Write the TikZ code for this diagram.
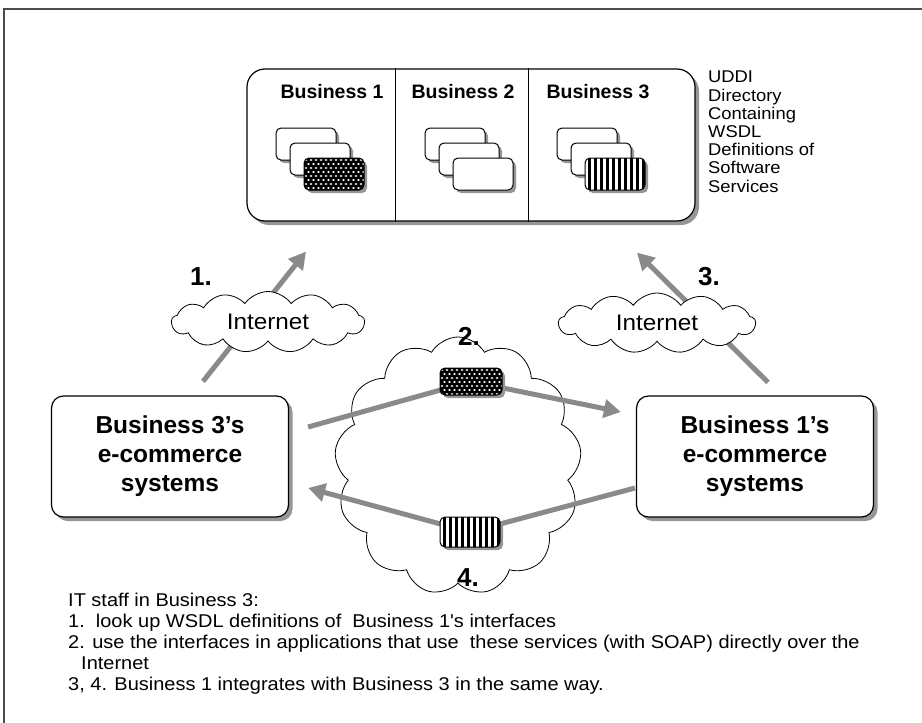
\documentclass[tikz,border=0pt]{standalone}
\usepackage{fontspec}
\setmainfont{Liberation Sans}
\newfontfamily\widefont{Liberation Sans}[FakeStretch=1.08]
\usetikzlibrary{positioning,calc,shapes.symbols,shadows,arrows.meta}

\definecolor{flowgray}{RGB}{138,138,138}
\definecolor{shadegray}{RGB}{150,150,150}

% stack of three service cards: x, y, name, style of the front card
\newcommand{\servicestack}[4]{%
  \node[card] (#3-a) at (#1,#2) {};
  \node[card] (#3-b) at (#1+14,#2+15) {};
  \node[card,#4] (#3-c) at (#1+28,#2+30) {};
}

\begin{document}
\begin{tikzpicture}[x=1pt,y=-1pt,>={Triangle[length=17pt,width=18pt]}]

	\tikzset{
		boxshadow/.style={drop shadow={shadow xshift=4pt, shadow yshift=-4pt, fill=shadegray, opacity=1}},
		sysbox/.style={draw=black, line width=1.2pt, rounded corners=12pt, fill=white, boxshadow,
			minimum width=237pt, minimum height=121pt, align=center,
			font=\fontsize{24.5}{29}\selectfont\bfseries},
		dirbox/.style={draw=black, line width=1.2pt, rounded corners=18pt, fill=white, boxshadow,
			minimum width=448pt, minimum height=152pt},
		card/.style={draw=black, line width=1pt, rounded corners=5pt, fill=white, inner sep=0pt,
			minimum width=60pt, minimum height=32pt,
			drop shadow={shadow xshift=3pt, shadow yshift=-3pt, fill=shadegray, opacity=1}},
		dotcard/.style={fill=black, path picture={
				\foreach \j in {0,...,8} \foreach \i in {0,...,13}
				\fill[white] ($(path picture bounding box.north west)+({\i*5+2+mod(\j,2)*2.5},{\j*4+2})$) ellipse (1.4pt and 1pt);
		}},
		stripecard/.style={fill=white, path picture={
				\foreach \i in {0,...,11}
				\draw[black, line width=3pt] ($(path picture bounding box.north west)+(\i*6+4,-2)$) -- ++(0,40);
		}},
		net/.style={cloud, cloud puffs=13, cloud puff arc=110, cloud ignores aspect, draw=black,
			fill=white, line width=0.8pt, inner sep=0pt, font=\widefont\fontsize{22.5}{24}\selectfont},
		flow/.style={draw=flowgray, line width=5pt},
		head/.style={font=\fontsize{19.5}{21}\selectfont\bfseries, inner sep=0pt},
		num/.style={font=\fontsize{26}{28}\selectfont\bfseries, inner sep=0pt},
		note/.style={align=left, inner sep=0pt}
	}
	
	\useasboundingbox (0,0) rectangle (922,723);
	
	% frame
	\draw[gray!60!black, line width=2pt] (4,723) -- (4,9) -- (922,9);
	
	% ===== UDDI directory =====
	\node[dirbox] (uddi) at (471,145) {};
	\coordinate (d1) at (395,0);
	\coordinate (d2) at (528,0);
	\draw[line width=1pt] (d1 |- uddi.north) -- (d1 |- uddi.south);
	\draw[line width=1pt] (d2 |- uddi.north) -- (d2 |- uddi.south);
	
	\node[head] (h1) at (332,92) {Business 1};
	\node[head] (h2) at (463,92) {Business 2};
	\node[head] (h3) at (598,92) {Business 3};
	
	\servicestack{306}{144}{s1}{dotcard}
	\servicestack{455}{144}{s2}{}
	\servicestack{587}{144}{s3}{stripecard}
	
	\node[note, anchor=north west, font=\widefont\fontsize{17}{18.2}\selectfont] (udditxt) at (708,71)
	{UDDI\\Directory\\Containing\\WSDL\\Definitions of\\Software\\Services};
	
	% ===== systems =====
	\node[sysbox] (b3sys) at (170,456.5) {Business 3’s\\e-commerce\\systems};
	\node[sysbox] (b1sys) at (755,456.5) {Business 1’s\\e-commerce\\systems};
	
	% ===== big cloud in the middle =====
	\node[cloud, cloud puffs=13, cloud puff arc=120, cloud ignores aspect, draw=black, line width=0.8pt,
		minimum width=247pt, minimum height=258pt] (web) at (458,466) {};
	
	% ===== lookups over the Internet =====
	\coordinate (a1s) at ($(b3sys.north)+(33,-14)$);
	\coordinate (a1e) at ($(uddi.south)+(-165,30)$);
	\draw[flow,->] (a1s) -- (a1e);
	
	\coordinate (a3s) at ($(b1sys.north)+(13,-13)$);
	\coordinate (a3e) at ($(uddi.south)+(166,31)$);
	\draw[flow,->] (a3s) -- (a3e);
	
	\node[net, minimum width=193pt, minimum height=61pt] (net1) at (268,322) {Internet};
	\node[net, minimum width=197pt, minimum height=60pt] (net3) at (657,323) {Internet};
	
	% ===== service calls =====
	\coordinate (a2s) at ($(b3sys.east)+(19,-29.5)$);
	\coordinate (a2e) at ($(b1sys.west)+(-15,-44.5)$);
	\coordinate (a4s) at ($(b1sys.west)+(-1,31.5)$);
	\coordinate (a4e) at ($(b3sys.east)+(19,31.5)$);
	\coordinate (c2) at (471,381.5);
	\coordinate (c4) at (470,532);
	
	\draw[flow] (a2s) -- (c2);
	\draw[flow,->] (c2) -- (a2e);
	\draw[flow] (a4s) -- (c4);
	\draw[flow,->] (c4) -- (a4e);
	
	\node[card, dotcard, minimum width=62pt, minimum height=27pt] (call2) at (c2) {};
	\node[card, stripecard, minimum width=60pt, minimum height=30pt] (call4) at (c4) {};
	
	% ===== step numbers =====
	\node[num] (n1) at (201,277) {1.};
	\node[num] (n2) at (469,336) {2.};
	\node[num] (n3) at (709,277) {3.};
	\node[num] (n4) at (468,578) {4.};
	
	% ===== explanation =====
	\node[note, anchor=north west, font=\widefont\fontsize{18.5}{21}\selectfont] (steps) at (68,593)
	{IT staff in Business 3:\\
		1.\ \ look up WSDL definitions of\ \ Business 1's interfaces\\
		2. use the interfaces in applications that use\ \ these services (with SOAP) directly over the\\
		\hspace*{13pt}Internet\\
		3, 4. Business 1 integrates with Business 3 in the same way.};
	
\end{tikzpicture}
\end{document}
